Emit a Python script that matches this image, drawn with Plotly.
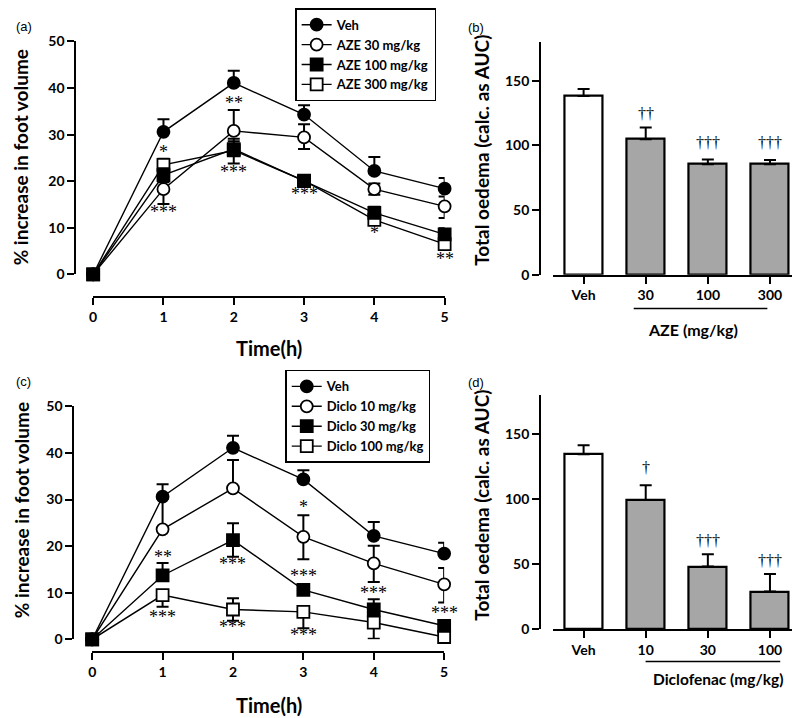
import plotly.graph_objects as go

W, H = 800, 718

# ---------------- data ----------------
time_h = [0, 1, 2, 3, 4, 5]

veh_mean = [0, 30.6, 41.1, 34.3, 22.2, 18.4]
veh_up = [0, 2.7, 2.6, 2.0, 3.0, 2.3]
veh_dn = [0, 0, 0, 0, 0, 0]

aze30_mean = [0, 18.3, 30.8, 29.4, 18.3, 14.6]
aze30_up = [0, 0, 4.5, 2.8, 1.2, 2.1]
aze30_dn = [0, 3.2, 0, 2.5, 1.2, 2.5]

aze100_mean = [0, 21.3, 26.9, 20.0, 13.2, 8.6]
aze100_up = [0, 1.5, 2.2, 0.8, 1.3, 1.3]
aze100_dn = [0, 1.5, 0, 0, 0, 0]

aze300_mean = [0, 23.5, 26.6, 20.1, 11.7, 6.5]
aze300_up = [0, 1.3, 2.0, 0.8, 1.0, 1.0]
aze300_dn = [0, 0, 2.8, 0.5, 0.8, 0.8]

d10_mean = [0, 23.6, 32.4, 22.0, 16.3, 11.8]
d10_up = [0, 6.5, 6.1, 4.6, 3.8, 3.5]
d10_dn = [0, 0, 0, 4.8, 4.0, 3.9]

d30_mean = [0, 13.7, 21.3, 10.6, 6.4, 2.9]
d30_up = [0, 2.7, 3.6, 0.7, 2.2, 1.2]
d30_dn = [0, 0, 3.6, 0, 0, 0]

d100_mean = [0, 9.5, 6.4, 5.9, 3.6, 0.5]
d100_up = [0, 0, 2.4, 0, 0, 0.5]
d100_dn = [0, 2.5, 2.4, 3.5, 3.5, 0]

# significance marks (time, y, text)
sig_a = [(1, 26.2, "*"), (1, 13.4, "***"), (2, 36.7, "**"), (2, 22.0, "***"),
         (3, 17.3, "***"), (4, 8.8, "*"), (5, 3.3, "**")]
sig_c = [(1, 17.7, "**"), (1, 4.8, "***"), (2, 16.2, "***"), (2, 2.6, "***"),
         (3, 28.4, "*"), (3, 13.6, "***"), (3, 0.9, "***"),
         (4, 10.0, "***"), (4, -1.4, "***"), (5, 5.6, "***")]

# AUC bar panels
aze_cats = ["Veh", "30", "100", "300"]
aze_auc = [138.1, 104.7, 85.4, 85.4]
aze_auc_err = [5.5, 9.1, 3.7, 3.2]
aze_dag = ["", "††", "†††", "†††"]
aze_dag_y = [0, 124.3, 102.2, 102.2]

dic_cats = ["Veh", "10", "30", "100"]
dic_auc = [134.5, 99.3, 48.0, 28.8]
dic_auc_err = [6.8, 11.2, 9.5, 13.5]
dic_dag = ["", "†", "†††", "†††"]
dic_dag_y = [0, 124.5, 68.3, 52.5]

# ---------------- helpers ----------------
def px(x):
    return x / W

def py(y):
    return 1 - y / H

FONT = "Lato"

fig = go.Figure()

def line_trace(x, y, up, dn, name, symbol, fill, xa, ya, legend):
    fig.add_trace(go.Scatter(
        x=x, y=y, name=name, mode="lines+markers",
        line=dict(color="black", width=1.4),
        marker=dict(symbol=symbol, size=12, color=fill,
                    line=dict(color="black", width=1.8)),
        error_y=dict(type="data", symmetric=False, array=up, arrayminus=dn,
                     color="black", thickness=2, width=6),
        xaxis=xa, yaxis=ya, legend=legend,
        cliponaxis=False,
    ))

# panel (a)  -- drawn in reverse so Veh is on top
line_trace(time_h, aze300_mean, aze300_up, aze300_dn, "AZE 300 mg/kg", "square", "white", "x", "y", "legend")
line_trace(time_h, aze100_mean, aze100_up, aze100_dn, "AZE 100 mg/kg", "square", "black", "x", "y", "legend")
line_trace(time_h, aze30_mean, aze30_up, aze30_dn, "AZE 30 mg/kg", "circle", "white", "x", "y", "legend")
line_trace(time_h, veh_mean, veh_up, veh_dn, "Veh", "circle", "black", "x", "y", "legend")

# panel (c)
line_trace(time_h, d100_mean, d100_up, d100_dn, "Diclo 100 mg/kg", "square", "white", "x3", "y3", "legend2")
line_trace(time_h, d30_mean, d30_up, d30_dn, "Diclo 30 mg/kg", "square", "black", "x3", "y3", "legend2")
line_trace(time_h, d10_mean, d10_up, d10_dn, "Diclo 10 mg/kg", "circle", "white", "x3", "y3", "legend2")
line_trace(time_h, veh_mean, veh_up, veh_dn, "Veh", "circle", "black", "x3", "y3", "legend2")

def bar_trace(cats, vals, err, xa, ya):
    fig.add_trace(go.Bar(
        x=cats, y=vals, width=0.61,
        marker=dict(color=["white"] + ["#a6a6a6"] * (len(cats) - 1),
                    line=dict(color="black", width=2.2)),
        error_y=dict(type="data", symmetric=False, array=err,
                     arrayminus=[0] * len(err), color="black", thickness=2, width=6),
        xaxis=xa, yaxis=ya, showlegend=False, cliponaxis=False,
    ))

bar_trace(aze_cats, aze_auc, aze_auc_err, "x2", "y2")
bar_trace(dic_cats, dic_auc, dic_auc_err, "x4", "y4")

# ---------------- axes ----------------
def ax(size):
    return dict(showline=True, linecolor="black", linewidth=2, ticks="outside",
                tickcolor="black", tickwidth=2, ticklen=7, showgrid=False,
                zeroline=False, fixedrange=True,
                tickfont=dict(family=FONT, size=size, color="black", weight="bold"))

fig.update_layout(
    xaxis=dict(**ax(14), domain=[px(82), px(437)], range=[0, 5], dtick=1,
               anchor="free", position=py(286)),
    yaxis=dict(**ax(14), domain=[py(263), py(24)], range=[0, 50], dtick=10,
               anchor="free", position=px(64)),
    xaxis3=dict(**ax(14), domain=[px(81), px(436.5)], range=[0, 5], dtick=1,
                anchor="free", position=py(650)),
    yaxis3=dict(**ax(14), domain=[py(637.3), py(398.3)], range=[0, 50], dtick=10,
                anchor="free", position=px(62)),
    xaxis2=dict(**ax(14), type="category", domain=[px(546), px(797)],
                range=[-0.5, 3.5], anchor="y2"),
    yaxis2=dict(**ax(14), domain=[py(263.3), py(24.4)], range=[0, 180],
                tickvals=[0, 50, 100, 150], anchor="free", position=px(533.5)),
    xaxis4=dict(**ax(14), type="category", domain=[px(546), px(797)],
                range=[-0.5, 3.5], anchor="y4"),
    yaxis4=dict(**ax(14), domain=[py(626.7), py(386.7)], range=[0, 180],
                tickvals=[0, 50, 100, 150], anchor="free", position=px(533.5)),
)

# ---------------- legends ----------------
leg_common = dict(bgcolor="white", bordercolor="black", borderwidth=1.5,
                  font=dict(family=FONT, size=13, color="black", weight="bold"),
                  xanchor="left", yanchor="top", traceorder="reversed",
                  itemwidth=30, tracegroupgap=0)
fig.update_layout(
    legend=dict(**leg_common, x=px(286), y=py(-10)),
    legend2=dict(**leg_common, x=px(276), y=py(361)),
)

# ---------------- annotations ----------------
ann = []
STAR = dict(family="Liberation Serif", size=18, color="black")
DAG = dict(family="Liberation Serif", size=16, color="black")
for t, yv, s in sig_a:
    ann.append(dict(x=t, y=yv, xref="x", yref="y", text=s, showarrow=False, font=STAR))
for t, yv, s in sig_c:
    ann.append(dict(x=t, y=yv, xref="x3", yref="y3", text=s, showarrow=False, font=STAR))
for i, (s, yv) in enumerate(zip(aze_dag, aze_dag_y)):
    if s:
        ann.append(dict(x=i, y=yv, xref="x2", yref="y2", text=s, showarrow=False, font=DAG))
for i, (s, yv) in enumerate(zip(dic_dag, dic_dag_y)):
    if s:
        ann.append(dict(x=i, y=yv, xref="x4", yref="y4", text=s, showarrow=False, font=DAG))

TITLE = dict(family=FONT, size=19, color="black", weight="bold")
TTIME = dict(family=FONT, size=20, color="black", weight="bold")

def paper_text(x, y, text, font, angle=0):
    ann.append(dict(x=px(x), y=py(y), xref="paper", yref="paper", text=text,
                    showarrow=False, font=font, textangle=angle,
                    xanchor="center", yanchor="middle"))

paper_text(9, 143, "% increase in foot volume", TITLE, -90)
paper_text(9, 505, "% increase in foot volume", TITLE, -90)
paper_text(260, 338, "Time(h)", TTIME)
paper_text(260, 705, "Time(h)", TTIME)
paper_text(474, 136, "Total oedema (calc. as AUC)", TITLE, -90)
paper_text(474, 500, "Total oedema (calc. as AUC)", TITLE, -90)
paper_text(688, 319, "AZE (mg/kg)", dict(family=FONT, size=16, color="black", weight="bold"))
paper_text(713, 678, "Diclofenac (mg/kg)", dict(family=FONT, size=15.5, color="black", weight="bold"))

LAB = dict(family="Liberation Sans", size=13, color="black")
paper_text(12, 9, "(a)", LAB)
paper_text(469, 10, "(b)", LAB)
paper_text(12, 373, "(c)", LAB)
paper_text(469, 374, "(d)", LAB)

fig.update_layout(annotations=ann)

# underlines grouping dose categories
fig.add_shape(type="line", xref="paper", yref="paper", x0=px(628), x1=px(763),
              y0=py(298), y1=py(298), line=dict(color="black", width=1.5))
fig.add_shape(type="line", xref="paper", yref="paper", x0=px(640), x1=px(776),
              y0=py(660), y1=py(660), line=dict(color="black", width=1.5))

fig.update_layout(width=W, height=H, margin=dict(l=0, r=0, t=0, b=0),
                  plot_bgcolor="white", paper_bgcolor="white", bargap=0)

fig.write_html("out.html")
